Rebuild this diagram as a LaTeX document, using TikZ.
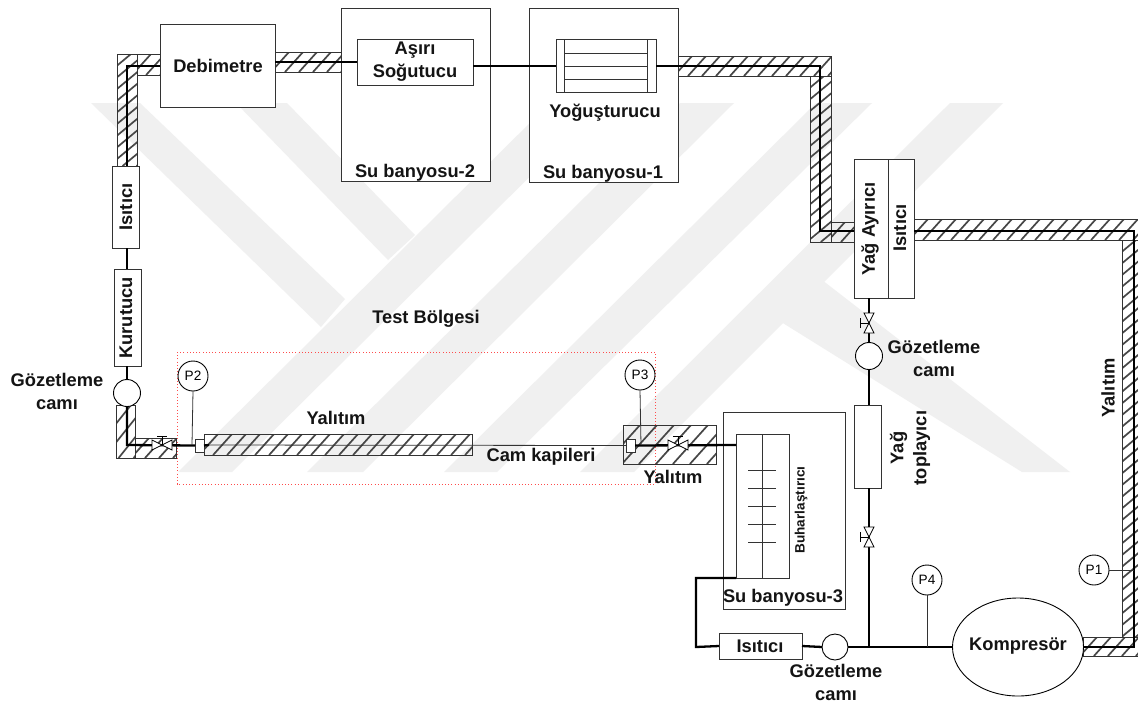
\documentclass[tikz,border=0pt]{standalone}
\usepackage{fontspec}
\setmainfont{Liberation Sans}
\usetikzlibrary{shapes.geometric}
\definecolor{wm}{HTML}{F0F0F0}
\definecolor{ln}{HTML}{333333}
\tikzset{
  x=1pt,y=-1pt,
  thinline/.style={draw=ln,line width=0.9pt},
  pipe/.style={draw=black,line width=2.3pt},
  capline/.style={draw=ln,line width=0.8pt},
  unit/.style={draw=ln,line width=1pt,inner sep=0,outer sep=0,rectangle},
  hatchframe/.style={draw=ln,line width=1pt,inner sep=0,outer sep=0,rectangle},
  hatchline/.style={draw=black!72,line width=1.7pt},
  glass/.style={circle,draw=black,line width=0.9pt,fill=white,minimum size=27pt,inner sep=0,outer sep=0},
  gauge/.style={circle,draw=black,line width=0.9pt,fill=white,minimum size=30pt,inner sep=0,outer sep=0,font=\fontsize{13.6}{15}\selectfont},
  lab/.style={font=\fontsize{18.3}{23}\selectfont\bfseries,align=center,inner sep=0,text=black!92},
  smalllab/.style={font=\fontsize{13.6}{15}\selectfont\bfseries,align=center,inner sep=0,text=black!92},
  band/.style={fill=wm,draw=none},
}
\newcommand{\bx}[6]{\node[#1,minimum width={(#4-#2)*1pt},minimum height={(#5-#3)*1pt}] (#6) at ({(#2+#4)/2},{(#3+#5)/2}) {};}
% x1 y1 x2 y2 name spacing, then slope via \hk
\newcommand{\hb}[7]{%
  \begin{scope}
    \clip (#1,#2) rectangle (#3,#4);
    \pgfmathsetmacro{\hbst}{#1-#7*(#4-#2)}
    \pgfmathsetmacro{\hbnx}{\hbst+#6}
    \pgfmathsetmacro{\hben}{#3+#6}
    \foreach \xx in {\hbst,\hbnx,...,\hben}
      \draw[hatchline] (\xx,#4) -- ({\xx+#7*(#4-#2)},#2);
  \end{scope}
  \bx{hatchframe}{#1}{#2}{#3}{#4}{#5}}
\newcommand{\valveH}[2]{\draw[fill=white,draw=black,line width=0.8pt] (#1-10,#2-5) -- (#1+10,#2+5) -- (#1+10,#2-5) -- (#1-10,#2+5) -- cycle;
  \draw[draw=black,line width=0.7pt] (#1,#2) -- (#1,#2-9) (#1-5,#2-9) -- (#1+5,#2-9);}
\newcommand{\valveV}[2]{\draw[fill=white,draw=black,line width=0.8pt] (#1-5,#2-10) -- (#1+5,#2+10) -- (#1-5,#2+10) -- (#1+5,#2-10) -- cycle;
  \draw[draw=black,line width=0.7pt] (#1,#2) -- (#1-9,#2) (#1-9,#2-5) -- (#1-9,#2+5);}
\begin{document}
\begin{tikzpicture}
\useasboundingbox (0,0) rectangle (1138,705);
\fill[white] (0,0) rectangle (1138,705);
% watermark
\fill[band] (178,472) -- (550,103) -- (604,103) -- (232,472) -- cycle;
\fill[band] (307,472) -- (680,103) -- (734,103) -- (363,472) -- cycle;
\fill[band] (444,472) -- (816,103) -- (872,103) -- (497,472) -- cycle;
\fill[band] (580,472) -- (950,103) -- (1003,103) -- (634,472) -- cycle;
\fill[band] (91,103) -- (140,103) -- (345,299) -- (321,327) -- cycle;
\fill[band] (236,103) -- (287,103) -- (415,235) -- (388,260) -- cycle;
\fill[band] (822,280) -- (1070,472) -- (1022,472) -- (778,320) -- cycle;
% red test region
\draw[red!70,line width=0.8pt,dash pattern=on 0.9pt off 2.3pt] (177,352) rectangle (655,484);
% insulation
\hb{117}{54}{137}{166}{h1}{14}{1.2}
\hb{137}{54}{160}{75}{h2}{14}{0.9}
\hb{275}{52}{341}{72}{h3}{14}{0.9}
\hb{678}{56}{831}{76}{h4}{14}{0.9}
\hb{810}{76}{831}{242}{h5}{14}{1.2}
\hb{831}{222}{854}{242}{h6}{14}{0.9}
\hb{914}{219}{1139}{240}{h7}{14}{0.9}
\hb{1122}{240}{1139}{637}{h8}{14}{1.2}
\hb{1083}{637}{1139}{656}{h9}{14}{0.9}
\hb{116}{405}{135}{458}{h10}{15}{0.8}
\hb{135}{438}{176}{458}{h11}{14}{0.9}
\hb{204}{434}{472}{455}{h12}{14}{0.9}
\hb{623}{425}{716}{464}{h13}{17}{0.9}
% baths
\bx{unit,fill=white}{341}{8}{490}{181}{bath2}
\bx{unit,fill=white}{529}{8}{678}{182}{bath1}
\bx{unit,fill=white}{723}{412}{845}{609}{bath3}
% equipment
\bx{unit,fill=white}{160}{24}{275}{107}{deb}
\bx{unit,fill=white}{357}{39}{473}{85}{sub}
\bx{unit,fill=white}{556}{39}{656}{92}{cond}
\bx{unit,fill=white}{112}{166}{139}{248}{heatA}
\bx{unit,fill=white}{114}{269}{141}{366}{dry}
\bx{unit,fill=white}{854}{159}{914}{298}{sep}
\bx{unit,fill=white}{854}{405}{881}{488}{coll}
\bx{unit,fill=white}{736}{434}{789}{578}{evap}
\bx{unit,fill=white}{719}{633}{802}{659}{heatB}
\bx{unit,fill=white}{195}{439}{204}{452}{fitA}
\bx{unit,fill=white}{626}{439}{635}{452}{fitB}
% internal lines
\draw[thinline] (564,39) -- (564,92) (647,39) -- (647,92);
\draw[thinline] (564,53) -- (647,53) (564,66) -- (647,66) (564,79) -- (647,79);
\draw[thinline] (888,159) -- (888,298);
\draw[thinline] (762,434) -- (762,578);
\foreach \yy in {470,488,506,524,542} \draw[thinline] (748,\yy) -- (776,\yy);
% main pipes
\coordinate (c1) at (127,66);
\coordinate (c2) at (820,66);
\coordinate (c3) at (820,231);
\coordinate (c4) at (1134,231);
\coordinate (c5) at (1134,647);
\coordinate (c6) at (127,445);
\coordinate (c7) at (696,647);
\coordinate (c8) at (696,578);
\coordinate (jn) at (869,647);
\coordinate (tp2) at (192,445);
\coordinate (tp4) at (927,647);
\coordinate (tp1) at (1134,570);
\coordinate (tp3) at (641,445);
\node[ellipse,draw=black,line width=0.9pt,fill=white,minimum width=131pt,minimum height=98pt,inner sep=0,outer sep=0] (comp) at (1018,647) {};
\node[glass] (sgA) at (127,393) {};
\node[glass] (sgB) at (869,356) {};
\node[glass,minimum size=26pt] (sgC) at (835,647) {};
\node[gauge] (p1) at (1094,570) {P1};
\node[gauge] (p2) at (193,376) {P2};
\node[gauge] (p3) at (640,375) {P3};
\node[gauge] (p4) at (927,580) {P4};
\draw[pipe] (deb.west |- c1) -- (c1) -- (heatA.north -| c1);
\draw[pipe] (275,62) -- (357,62);
\draw[pipe] (473,66) -- (556,66);
\draw[pipe] (656,66) -- (c2) -- (c3) -- (854,231);
\draw[pipe] (914,231) -- (c4) -- (c5) -- (comp.east);
\draw[pipe] (comp.west) -- (sgC.east);
\draw[pipe] (sgC.west) -- (heatB.east);
\draw[pipe] (heatB.west) -- (c7) -- (c8) -- (736,578);
\draw[pipe] (jn) -- (coll.south -| jn);
\draw[pipe] (coll.north -| jn) -- (sgB.south);
\draw[pipe] (sgB.north) -- (sep.south -| jn);
\draw[pipe] (heatA.south -| c1) -- (dry.north -| c1);
\draw[pipe] (dry.south -| c1) -- (sgA.north);
\draw[pipe] (sgA.south) -- (c6) -- (fitA.west);
\draw[pipe] (fitA.east) -- (209,445);
\draw[capline] (209,445) -- (fitB.west);
\draw[pipe] (fitB.east) -- (736,445);
\draw[capline] (p1.east) -- (tp1);
\draw[capline] (p2.south) -- (tp2);
\draw[capline] (p3.south) -- (tp3);
\draw[capline] (p4.south) -- (tp4);
% valves
\valveH{162}{445}
\valveH{678}{445}
\valveV{869}{323}
\valveV{869}{537}
% labels
\node[lab] (t1) at (218,66) {Debimetre};
\node[lab] (t2) at (415,62) {Aşırı\\Soğutucu};
\node[lab] (t3) at (415,173) {Su banyosu-2};
\node[lab] (t4) at (603,174) {Su banyosu-1};
\node[lab] (t5) at (605,113) {Yoğuşturucu};
\node[lab,rotate=90] (t6) at (126,207) {Isıtıcı};
\node[lab,rotate=90] (t7) at (126,318) {Kurutucu};
\node[lab] (t8) at (57,391) {Gözetleme\\camı};
\node[lab] (t9) at (426,319) {Test Bölgesi};
\node[lab] (t10) at (336,418) {Yalıtım};
\node[lab] (t11) at (541,457) {Cam kapileri};
\node[lab] (t12) at (673,477) {Yalıtım};
\node[lab] (t13) at (934,358) {Gözetleme\\camı};
\node[lab,rotate=90] (t14) at (910,448) {Yağ\\toplayıcı};
\node[lab,rotate=90] (t15) at (1108,388) {Yalıtım};
\node[lab,rotate=90] (t16) at (870,229) {Yağ Ayırıcı};
\node[lab,rotate=90] (t17) at (900,228) {Isıtıcı};
\node[lab] (t18) at (760,646) {Isıtıcı};
\node[lab] (t19) at (1018,646) {Kompresör};
\node[lab] (t20) at (836,682) {Gözetleme\\camı};
\node[lab] (t21) at (783,598) {Su banyosu-3};
\node[smalllab,rotate=90] (t22) at (801,510) {Buharlaştırıcı};
\end{tikzpicture}
\end{document}
